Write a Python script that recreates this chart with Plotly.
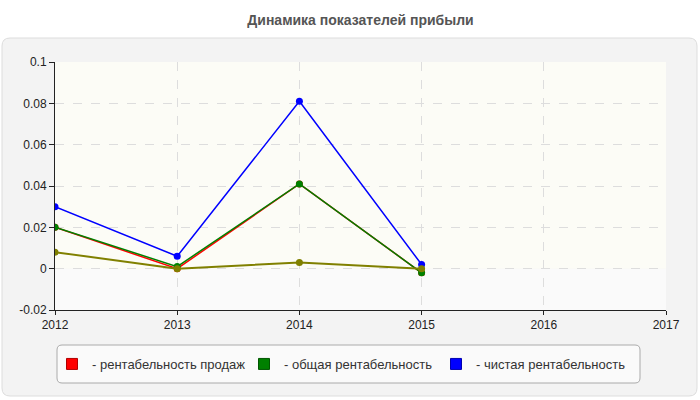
import plotly.graph_objects as go

years = [2012, 2013, 2014, 2015]
sales_profitability = [0.020, 0.000, 0.041, -0.002]
total_profitability = [0.020, 0.001, 0.041, -0.002]
net_profitability = [0.030, 0.006, 0.081, 0.002]
extra_series = [0.008, 0.000, 0.003, 0.000]

names = ["- рентабельность продаж", "- общая рентабельность", "- чистая рентабельность"]
colors = ["#ff0000", "#008000", "#0000ff"]
edge_colors = ["#b00000", "#005500", "#0000b0"]
y_ticks = [-0.02, 0, 0.02, 0.04, 0.06, 0.08, 0.1]
y_tick_labels = ["-0.02", "0", "0.02", "0.04", "0.06", "0.08", "0.1"]
x_ticks = [2012, 2013, 2014, 2015, 2016, 2017]

W, H = 700, 400
ML, MR, MT, MB = 55, 34, 62, 90
PW, PH = W - ML - MR, H - MT - MB


def px(x):
    return (x - ML) / PW


def py(y):
    return (H - MB - y) / PH


def rounded(x0, y0, x1, y1, r):
    pts = [
        f"M {px(x0 + r)},{py(y0)}",
        f"L {px(x1 - r)},{py(y0)}",
        f"Q {px(x1)},{py(y0)} {px(x1)},{py(y0 + r)}",
        f"L {px(x1)},{py(y1 - r)}",
        f"Q {px(x1)},{py(y1)} {px(x1 - r)},{py(y1)}",
        f"L {px(x0 + r)},{py(y1)}",
        f"Q {px(x0)},{py(y1)} {px(x0)},{py(y1 - r)}",
        f"L {px(x0)},{py(y0 + r)}",
        f"Q {px(x0)},{py(y0)} {px(x0 + r)},{py(y0)}",
        "Z",
    ]
    return " ".join(pts)


fig = go.Figure()

series = [sales_profitability, total_profitability, net_profitability]
for vals, c in zip(series, colors):
    fig.add_trace(go.Scatter(
        x=years, y=vals, mode="lines+markers",
        line=dict(color=c, width=1.5),
        marker=dict(color=c, size=7),
        showlegend=False, hoverinfo="skip",
    ))
fig.add_trace(go.Scatter(
    x=years, y=extra_series, mode="lines+markers",
    line=dict(color="#808000", width=2),
    marker=dict(color="#808000", size=7),
    showlegend=False, hoverinfo="skip",
))
for n, c, ec in zip(names, colors, edge_colors):
    fig.add_trace(go.Scatter(
        x=[None], y=[None], mode="markers", name=n,
        marker=dict(color=c, symbol="square", size=11, line=dict(color=ec, width=1)),
    ))

shapes = [
    dict(type="path", xref="paper", yref="paper", path=rounded(2, 38, 697, 396, 8),
         fillcolor="#f3f3f3", line=dict(color="#dddddd", width=1), layer="below"),
    dict(type="rect", xref="x", yref="y", x0=2012, x1=2017, y0=0, y1=0.1,
         fillcolor="#fcfcf6", line=dict(width=0), layer="below"),
    dict(type="rect", xref="x", yref="y", x0=2012, x1=2017, y0=-0.02, y1=0,
         fillcolor="#fafafa", line=dict(width=0), layer="below"),
    dict(type="path", xref="paper", yref="paper", path=rounded(57, 345, 640, 383, 5),
         fillcolor="#fafafa", line=dict(color="#aaaaaa", width=1), layer="below"),
]

fig.update_layout(
    width=W, height=H,
    margin=dict(l=ML, r=MR, t=MT, b=MB, pad=0),
    paper_bgcolor="white",
    plot_bgcolor="rgba(0,0,0,0)",
    font=dict(family="Liberation Sans, Arial, sans-serif", size=12, color="#222"),
    title=dict(text="<b>Динамика показателей прибыли</b>", x=0.5, xref="paper", xanchor="center",
               y=1 - 20 / H, yanchor="middle",
               font=dict(family="Liberation Sans, Arial", size=14, color="#555")),
    shapes=shapes,
    showlegend=True,
    legend=dict(orientation="h", x=px(52), xanchor="left", y=py(364), yanchor="middle",
                bgcolor="rgba(0,0,0,0)", borderwidth=0,
                font=dict(family="Liberation Sans, Arial", size=13, color="#333"),
                entrywidth=147, entrywidthmode="pixels", itemwidth=30),
    xaxis=dict(range=[2012, 2017], tickvals=x_ticks, showgrid=True, gridcolor="#dddddd",
               griddash="dash", gridwidth=1, showline=True, linecolor="#222", linewidth=1,
               ticks="outside", ticklen=4, tickcolor="#222", zeroline=False,
               tickfont=dict(size=12, color="#222")),
    yaxis=dict(range=[-0.02, 0.1], tickvals=y_ticks, ticktext=y_tick_labels, showgrid=True,
               gridcolor="#dddddd", griddash="dash", gridwidth=1, showline=True,
               linecolor="#222", linewidth=1, ticks="outside", ticklen=5, tickcolor="#222",
               zeroline=False, tickfont=dict(size=12, color="#222")),
)

fig.write_html("out.html")
